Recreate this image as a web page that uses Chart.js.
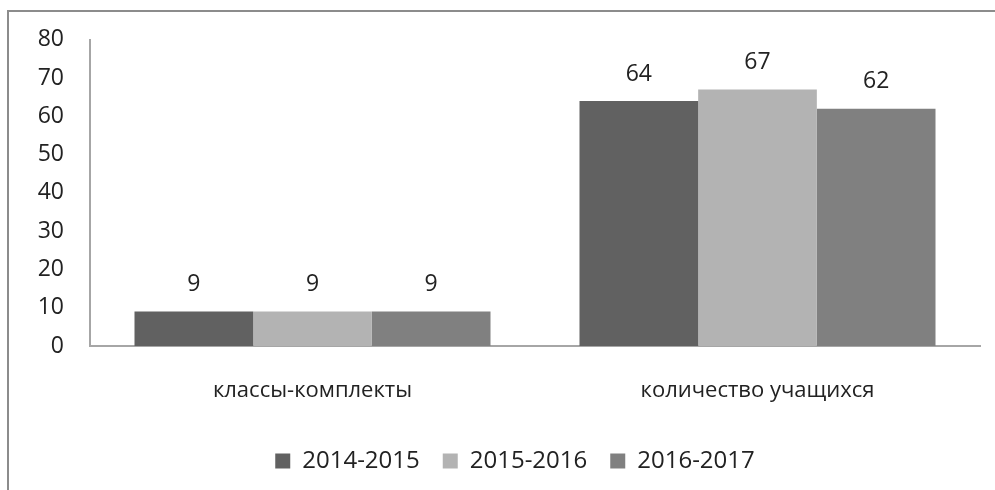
<!DOCTYPE html>
<html>
<head>
<meta charset="utf-8">
<script src="https://cdn.jsdelivr.net/npm/chart.js@4.4.0/dist/chart.umd.min.js"></script>
<style>
  body { margin: 0; background: #fff; }
  #wrap { position: relative; width: 995px; height: 490px; overflow: hidden; }
  #frame { position: absolute; left: 7px; top: 10px; width: 1100px; height: 600px;
           border-left: 2px solid #8c8c8c; border-top: 2px solid #8c8c8c; }
  canvas { position: absolute; left: 0; top: 0; }
</style>
</head>
<body>
<div id="wrap">
  <div id="frame"></div>
  <canvas id="chart" width="995" height="490"></canvas>
</div>
<script>
const categories = ['классы-комплекты', 'количество учащихся'];
const seriesNames = ['2014-2015', '2015-2016', '2016-2017'];
const values2014 = [9, 64];
const values2015 = [9, 67];
const values2016 = [9, 62];
const seriesColors = ['#616161', '#b3b3b3', '#808080'];

const FONT = 'Open Sans';

// value labels above each bar
const valueLabels = {
    id: 'valueLabels',
    afterDatasetsDraw(chart) {
        const ctx = chart.ctx;
        ctx.save();
        ctx.font = '23px "' + FONT + '"';
        ctx.fillStyle = '#222';
        ctx.textAlign = 'center';
        ctx.textBaseline = 'middle';
        chart.data.datasets.forEach((ds, i) => {
            chart.getDatasetMeta(i).data.forEach((bar, j) => {
                ctx.fillText(ds.data[j], bar.x, bar.y - 27);
            });
        });
        ctx.restore();
    }
};

// legend in the original sits a bit right of centre
const shiftLegend = {
    id: 'shiftLegend',
    afterLayout(chart) {
        chart.legend.left += 25;
        chart.legend.right += 25;
    }
};

new Chart(document.getElementById('chart').getContext('2d'), {
    type: 'bar',
    data: {
        labels: categories,
        datasets: [
            { label: seriesNames[0], data: values2014, backgroundColor: seriesColors[0] },
            { label: seriesNames[1], data: values2015, backgroundColor: seriesColors[1] },
            { label: seriesNames[2], data: values2016, backgroundColor: seriesColors[2] }
        ]
    },
    options: {
        responsive: false,
        animation: false,
        layout: { padding: { left: 0, right: 15, top: 39, bottom: 7 } },
        datasets: { bar: { barPercentage: 1, categoryPercentage: 0.8 } },
        plugins: {
            tooltip: { enabled: false },
            legend: {
                position: 'bottom',
                labels: {
                    font: { family: FONT, size: 24 },
                    color: '#222',
                    boxWidth: 15,
                    boxHeight: 15,
                    padding: 23
                }
            }
        },
        scales: {
            x: {
                grid: { display: false, drawTicks: false },
                border: { color: '#a6a6a6', width: 2 },
                ticks: { font: { family: FONT, size: 22 }, color: '#222', padding: 32 },
                afterFit(scale) { scale.height = 80; }
            },
            y: {
                min: 0,
                max: 80,
                grid: { display: false, drawTicks: false },
                border: { color: '#a6a6a6', width: 2 },
                ticks: { stepSize: 10, font: { family: FONT, size: 23 }, color: '#222', padding: 26 },
                afterFit(scale) { scale.width = 90; }
            }
        }
    },
    plugins: [valueLabels, shiftLegend]
});
</script>
</body>
</html>
